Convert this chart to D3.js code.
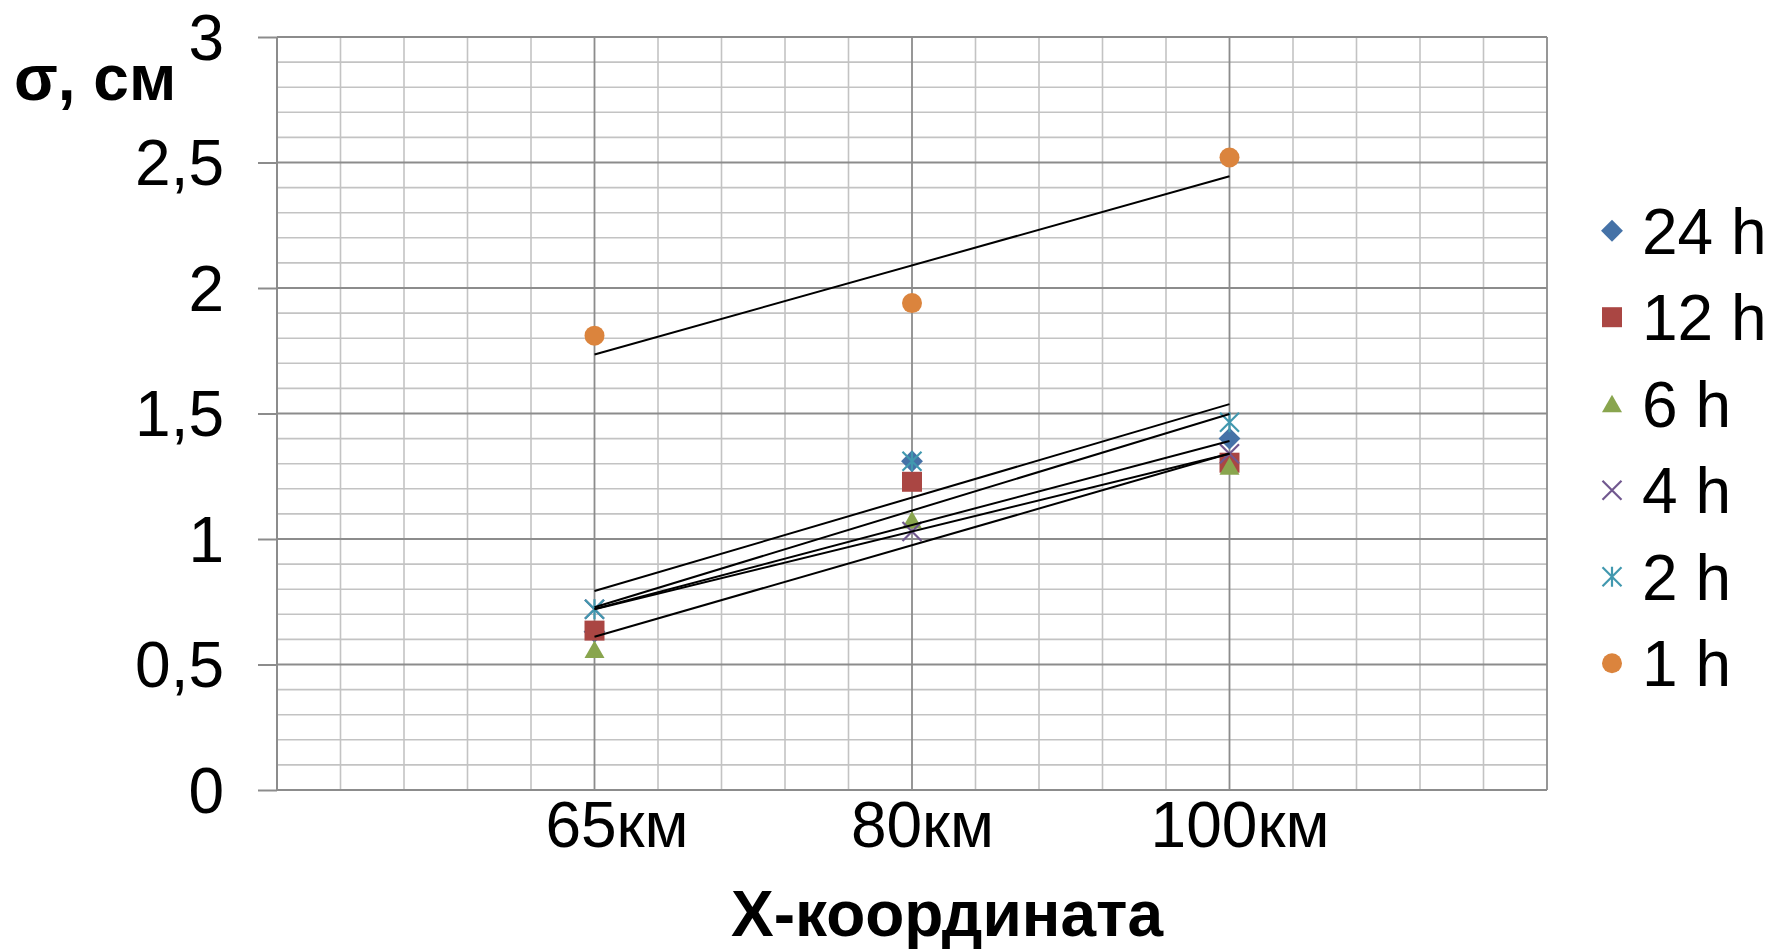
<!DOCTYPE html>
<html>
<head>
<meta charset="utf-8">
<script src="https://cdn.jsdelivr.net/npm/d3@7"></script>
<style>
  html, body { margin: 0; padding: 0; background: #fff; }
  svg { display: block; }
  text { font-family: "Liberation Sans", Arial, sans-serif; fill: #000; }
</style>
</head>
<body>
<svg id="chart" width="1771" height="950"></svg>
<script>
// ---- data ----
const categories = ["65км", "80км", "100км"];
const seriesNames = ["24 h", "12 h", "6 h", "4 h", "2 h", "1 h"];
const s24h = [0.63, 1.31, 1.40];
const s12h = [0.635, 1.228, 1.304];
const s6h  = [0.56, 1.076, 1.29];
const s4h  = [0.72, 1.03, 1.34];
const s2h  = [0.72, 1.31, 1.465];
const s1h  = [1.81, 1.94, 2.52];
const yTickValues = [0, 0.5, 1, 1.5, 2, 2.5, 3];
const yTickLabels = ["0", "0,5", "1", "1,5", "2", "2,5", "3"];
const yTitle = "σ, см";
const xTitle = "Х-координата";

const seriesValues = [s24h, s12h, s6h, s4h, s2h, s1h];
const colors = ["#4572A7", "#AA4643", "#89A54E", "#71588F", "#4198AF", "#DB843D"];
const shapes = ["diamond", "square", "triangle", "x", "star", "circle"];
const xLabelShift = [22, 10, 10];

// ---- layout ----
const svg = d3.select("#chart");
const pLeft = 277, pRight = 1547, pTop = 37, pBottom = 790;

const x = d3.scaleLinear().domain([0, 4]).range([pLeft, pRight]);
const y = d3.scaleLinear().domain([0, 3]).range([pBottom, pTop]);

const g = svg.append("g");

// minor horizontal gridlines
const minorY = d3.range(0, 31).map(i => i / 10).filter(v => Math.abs(v * 2 - Math.round(v * 2)) > 1e-6);
g.append("g").selectAll("line").data(minorY).join("line")
  .attr("x1", pLeft).attr("x2", pRight)
  .attr("y1", d => y(d)).attr("y2", d => y(d))
  .attr("stroke", "#c3c3c3").attr("stroke-width", 1.6);

// minor vertical gridlines
const minorX = d3.range(0, 21).map(i => i / 5).filter(v => Math.abs(v - Math.round(v)) > 1e-6);
g.append("g").selectAll("line").data(minorX).join("line")
  .attr("y1", pTop).attr("y2", pBottom)
  .attr("x1", d => x(d)).attr("x2", d => x(d))
  .attr("stroke", "#c3c3c3").attr("stroke-width", 1.6);

// major horizontal gridlines
g.append("g").selectAll("line").data(yTickValues.filter(v => v > 0)).join("line")
  .attr("x1", pLeft).attr("x2", pRight)
  .attr("y1", d => y(d)).attr("y2", d => y(d))
  .attr("stroke", "#8c8c8c").attr("stroke-width", 1.8);

// major vertical gridlines
g.append("g").selectAll("line").data([1, 2, 3, 4]).join("line")
  .attr("y1", pTop).attr("y2", pBottom)
  .attr("x1", d => x(d)).attr("x2", d => x(d))
  .attr("stroke", "#8c8c8c").attr("stroke-width", 1.8);

// y axis
const yAxis = d3.axisLeft(y).tickValues(yTickValues)
  .tickFormat((d, i) => yTickLabels[i]).tickSize(19).tickPadding(34);
const ya = svg.append("g").attr("transform", `translate(${pLeft},0)`).call(yAxis);
ya.select(".domain").attr("stroke", "#8c8c8c").attr("stroke-width", 2).attr("d", `M0,${pTop}V${pBottom}`);
ya.selectAll(".tick line").attr("stroke", "#8c8c8c").attr("stroke-width", 2);
ya.selectAll(".tick text").attr("font-size", 64).attr("font-family", "Liberation Sans, Arial, sans-serif")
  .attr("fill", "#000").attr("dy", "0.35em");

// x axis
const xAxis = d3.axisBottom(x).tickValues([1, 2, 3])
  .tickFormat((d, i) => categories[i]).tickSize(0).tickPadding(12);
const xa = svg.append("g").attr("transform", `translate(0,${pBottom})`).call(xAxis);
xa.select(".domain").attr("stroke", "#8c8c8c").attr("stroke-width", 2).attr("d", `M${pLeft},0H${pRight}`);
xa.selectAll(".tick text").attr("font-size", 64).attr("font-family", "Liberation Sans, Arial, sans-serif")
  .attr("fill", "#000").attr("dy", "0.71em").attr("dx", (d, i) => xLabelShift[i]);

// titles
svg.append("text").attr("x", 14).attr("y", 100).attr("font-size", 64).attr("font-weight", "bold").text(yTitle);
svg.append("text").attr("x", 947).attr("y", 936).attr("text-anchor", "middle")
  .attr("font-size", 64).attr("font-weight", "bold").text(xTitle);

// ---- markers ----
function drawMarker(sel, shape, color) {
  if (shape === "diamond") {
    sel.append("path").attr("d", d3.symbol().type(d3.symbolSquare).size(240)())
      .attr("transform", "rotate(45)").attr("fill", color);
  } else if (shape === "square") {
    sel.append("path").attr("d", d3.symbol().type(d3.symbolSquare).size(400)()).attr("fill", color);
  } else if (shape === "triangle") {
    sel.append("path").attr("d", "M0,-9L10,8.5L-10,8.5Z").attr("fill", color);
  } else if (shape === "x") {
    sel.append("path").attr("d", "M-9.5,-9.5L9.5,9.5M-9.5,9.5L9.5,-9.5")
      .attr("stroke", color).attr("stroke-width", 2.2).attr("fill", "none");
  } else if (shape === "star") {
    sel.append("path").attr("d", "M-9.5,-9.5L9.5,9.5M-9.5,9.5L9.5,-9.5M0,-10V10")
      .attr("stroke", color).attr("stroke-width", 2.2).attr("fill", "none");
  } else if (shape === "circle") {
    sel.append("circle").attr("r", 10).attr("fill", color);
  }
}

const plot = svg.append("g");
seriesValues.forEach((vals, si) => {
  vals.forEach((v, ci) => {
    const m = plot.append("g").attr("transform", `translate(${x(ci + 1)},${y(v)})`);
    drawMarker(m, shapes[si], colors[si]);
  });
});

// ---- linear trendlines ----
seriesValues.forEach(vals => {
  const xs = vals.map((v, i) => i + 1);
  const mx = d3.mean(xs), my = d3.mean(vals);
  const slope = d3.sum(xs.map((xx, i) => (xx - mx) * (vals[i] - my))) / d3.sum(xs.map(xx => (xx - mx) ** 2));
  const icpt = my - slope * mx;
  plot.append("line")
    .attr("x1", x(1)).attr("y1", y(icpt + slope * 1))
    .attr("x2", x(3)).attr("y2", y(icpt + slope * 3))
    .attr("stroke", "#000").attr("stroke-width", 2);
});

// ---- legend ----
const legend = svg.append("g");
seriesNames.forEach((name, i) => {
  const ly = 230.7 + i * 86.5;
  const m = legend.append("g").attr("transform", `translate(1612,${ly})`);
  drawMarker(m, shapes[i], colors[i]);
  legend.append("text").attr("x", 1642).attr("y", ly + 23).attr("font-size", 64).text(name);
});
</script>
</body>
</html>
